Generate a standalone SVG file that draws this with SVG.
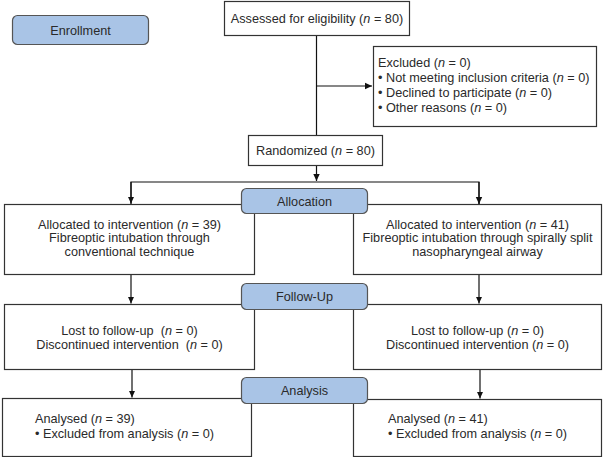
<svg xmlns="http://www.w3.org/2000/svg" width="605" height="457" viewBox="0 0 605 457">
<style>
.box{fill:#fff;stroke:#333;stroke-width:1.2}
.lab{fill:#a9c4e6;stroke:#555;stroke-width:1.2}
text{font-family:"Liberation Sans",Arial,sans-serif;font-size:12.7px;fill:#2a2a2a}
.c{text-anchor:middle}
.ln{stroke:#111;stroke-width:1.2;fill:none}
</style>
<defs>
<marker id="ah" markerWidth="8" markerHeight="8" refX="7" refY="4" orient="auto" markerUnits="userSpaceOnUse">
<path d="M0,0.8 L7,4 L0,7.2 Z" fill="#111"/>
</marker>
</defs>
<g id="connectors">
<path class="ln" d="M316.5,35 V135"/>
<path class="ln" d="M316.5,86 H372" marker-end="url(#ah)"/>
<path class="ln" d="M316.5,165 V181" marker-end="url(#ah)"/>
<path class="ln" d="M131,204 V182 H479 V204" />
<path class="ln" d="M131,182 V203.5" marker-end="url(#ah)"/>
<path class="ln" d="M479,182 V204" marker-end="url(#ah)"/>
<path class="ln" d="M131,274 V303.5" marker-end="url(#ah)"/>
<path class="ln" d="M479,274 V303.5" marker-end="url(#ah)"/>
<path class="ln" d="M132,369 V397.5" marker-end="url(#ah)"/>
<path class="ln" d="M480,369 V398.5" marker-end="url(#ah)"/>
</g>
<g id="enrollment">
<rect class="lab" x="12.5" y="15.5" width="136" height="29" rx="5"/>
<text class="c" x="80.5" y="34.5">Enrollment</text>
</g>
<g id="assessed">
<rect class="box" x="224.5" y="1.5" width="185" height="34"/>
<text class="c" x="317" y="22.5">Assessed for eligibility (<tspan font-style="italic">n</tspan> = 80)</text>
</g>
<g id="excluded">
<rect class="box" x="373.5" y="46.5" width="223" height="80"/>
<text x="378" y="66.5">Excluded (<tspan font-style="italic">n</tspan> = 0)</text>
<text x="378" y="81.5">• Not meeting inclusion criteria (<tspan font-style="italic">n</tspan> = 0)</text>
<text x="378" y="96.5">• Declined to participate (<tspan font-style="italic">n</tspan> = 0)</text>
<text x="378" y="111.5">• Other reasons (<tspan font-style="italic">n</tspan> = 0)</text>
</g>
<g id="randomized">
<rect class="box" x="248.5" y="135.5" width="134" height="30"/>
<text class="c" x="315.5" y="155">Randomized (<tspan font-style="italic">n</tspan> = 80)</text>
</g>
<g id="alloc-left">
<rect class="box" x="4.5" y="204.5" width="250" height="70"/>
<text class="c" x="129.5" y="228.5">Allocated to intervention (<tspan font-style="italic">n</tspan> = 39)</text>
<text class="c" x="129.5" y="242">Fibreoptic intubation through</text>
<text class="c" x="129.5" y="255.5">conventional technique</text>
</g>
<g id="alloc-right">
<rect class="box" x="353.5" y="204.5" width="248" height="70"/>
<text class="c" x="477.5" y="228.5">Allocated to intervention (<tspan font-style="italic">n</tspan> = 41)</text>
<text class="c" x="477.5" y="242">Fibreoptic intubation through spirally split</text>
<text class="c" x="477.5" y="255.5">nasopharyngeal airway</text>
</g>
<g id="allocation">
<rect class="lab" x="241.5" y="188.5" width="126" height="25" rx="5"/>
<text class="c" x="304.5" y="205.5">Allocation</text>
</g>
<g id="lost-left">
<rect class="box" x="4.5" y="304.5" width="250" height="65"/>
<text class="c" x="129.5" y="334.5" xml:space="preserve">Lost to follow-up  (<tspan font-style="italic">n</tspan> = 0)</text>
<text class="c" x="129.5" y="348.5" xml:space="preserve">Discontinued intervention  (<tspan font-style="italic">n</tspan> = 0)</text>
</g>
<g id="lost-right">
<rect class="box" x="353.5" y="304.5" width="248" height="65"/>
<text class="c" x="477.5" y="334.5">Lost to follow-up (<tspan font-style="italic">n</tspan> = 0)</text>
<text class="c" x="477.5" y="348.5">Discontinued intervention (<tspan font-style="italic">n</tspan> = 0)</text>
</g>
<g id="followup">
<rect class="lab" x="241.5" y="283.5" width="126" height="26" rx="5"/>
<text class="c" x="304.5" y="301">Follow-Up</text>
</g>
<g id="analysed-left">
<rect class="box" x="2.5" y="398.5" width="249" height="58"/>
<text x="35" y="423">Analysed (<tspan font-style="italic">n</tspan> = 39)</text>
<text x="35" y="438">• Excluded from analysis (<tspan font-style="italic">n</tspan> = 0)</text>
</g>
<g id="analysed-right">
<rect class="box" x="353.5" y="399.5" width="248" height="57"/>
<text x="388" y="423">Analysed (<tspan font-style="italic">n</tspan> = 41)</text>
<text x="388" y="438">• Excluded from analysis (<tspan font-style="italic">n</tspan> = 0)</text>
</g>
<g id="analysis">
<rect class="lab" x="241.5" y="377.5" width="126" height="26" rx="5"/>
<text class="c" x="304.5" y="395">Analysis</text>
</g>
</svg>
